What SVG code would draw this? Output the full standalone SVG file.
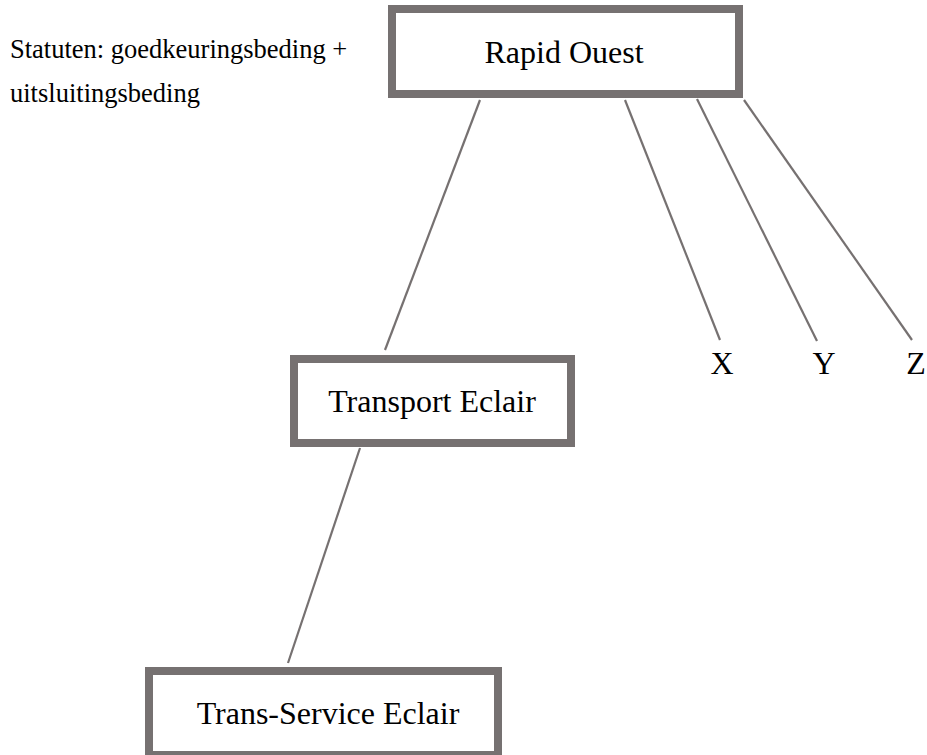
<svg xmlns="http://www.w3.org/2000/svg" width="927" height="755" viewBox="0 0 927 755">
<style>
.box{fill:#ffffff;stroke:#767171;stroke-width:8}
.lbl{font-family:"Liberation Serif","Times New Roman",serif;font-size:32px;fill:#000;text-anchor:middle}
.note{font-family:"Liberation Serif","Times New Roman",serif;font-size:26.5px;fill:#000}
.con line{stroke:#767171;stroke-width:2.2;fill:none}
</style>
<rect width="927" height="755" fill="#ffffff"/>
<g id="connectors" class="con">
<line x1="480" y1="100" x2="385" y2="350"/>
<line x1="625" y1="100" x2="720" y2="340"/>
<line x1="697" y1="99" x2="817" y2="341"/>
<line x1="744" y1="100" x2="912" y2="340"/>
<line x1="360" y1="448" x2="288" y2="663"/>
</g>
<g id="note">
<text class="note" x="10" y="58">Statuten: goedkeuringsbeding +</text>
<text class="note" x="10" y="102">uitsluitingsbeding</text>
</g>
<g id="rapid-ouest">
<rect class="box" x="392" y="9" width="347" height="85"/>
<text class="lbl" x="564" y="63">Rapid Ouest</text>
</g>
<g id="transport-eclair">
<rect class="box" x="294" y="359" width="277" height="84"/>
<text class="lbl" x="432" y="412">Transport Eclair</text>
</g>
<g id="trans-service-eclair">
<rect class="box" x="149" y="671" width="349" height="84"/>
<text class="lbl" x="328" y="724">Trans-Service Eclair</text>
</g>
<g id="x"><text class="lbl" x="722" y="374">X</text></g>
<g id="y"><text class="lbl" x="824" y="374">Y</text></g>
<g id="z"><text class="lbl" x="916" y="374">Z</text></g>
</svg>
